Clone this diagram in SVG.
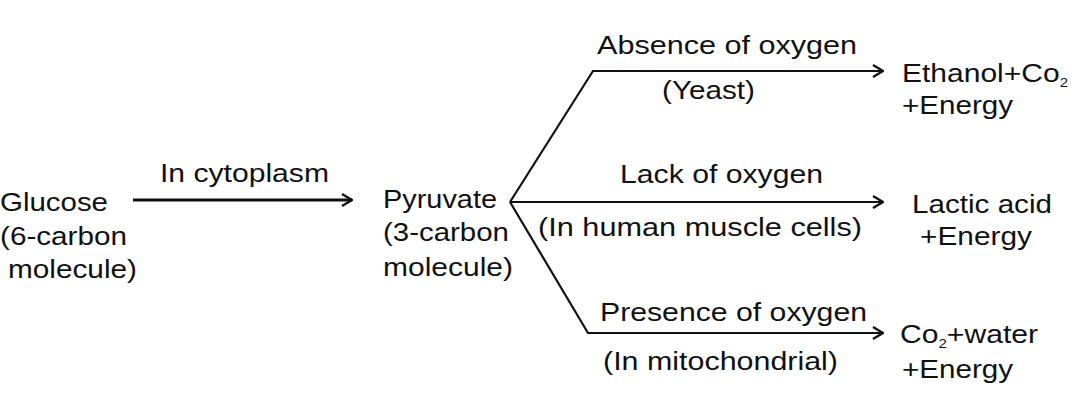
<svg xmlns="http://www.w3.org/2000/svg" width="1080" height="412" viewBox="0 0 1080 412">
<style>
text{font-family:"Liberation Sans",Arial,sans-serif;font-size:26px;fill:#111}
.ln{stroke:#111;stroke-width:2.2;fill:none}
.thick{stroke-width:3}
.sub{font-size:13px}
</style>
<defs>
<marker id="ah" viewBox="0 0 12 14" refX="11" refY="7" markerWidth="12" markerHeight="14" markerUnits="userSpaceOnUse" orient="auto">
<path d="M1,1 L11,7 L1,13" fill="none" stroke="#111" stroke-width="2.4"/>
</marker>
</defs>
<rect width="1080" height="412" fill="#fff"/>
<g id="glucose">
<text x="0" y="211" textLength="108" lengthAdjust="spacingAndGlyphs">Glucose</text>
<text x="0" y="245" textLength="127" lengthAdjust="spacingAndGlyphs">(6-carbon</text>
<text x="8" y="278" textLength="129" lengthAdjust="spacingAndGlyphs">molecule)</text>
</g>
<g id="pyruvate">
<text x="383" y="208" textLength="114" lengthAdjust="spacingAndGlyphs">Pyruvate</text>
<text x="383" y="241" textLength="126" lengthAdjust="spacingAndGlyphs">(3-carbon</text>
<text x="383" y="276" textLength="130" lengthAdjust="spacingAndGlyphs">molecule)</text>
</g>
<g id="ethanol">
<text x="902" y="82" textLength="166" lengthAdjust="spacingAndGlyphs">Ethanol+Co<tspan class="sub" dy="5">2</tspan></text>
<text x="902" y="114" textLength="111" lengthAdjust="spacingAndGlyphs">+Energy</text>
</g>
<g id="lactic">
<text x="912" y="213" textLength="140" lengthAdjust="spacingAndGlyphs">Lactic acid</text>
<text x="920" y="245" textLength="112" lengthAdjust="spacingAndGlyphs">+Energy</text>
</g>
<g id="co2water">
<text x="900" y="343" textLength="138" lengthAdjust="spacingAndGlyphs">Co<tspan class="sub" dy="5">2</tspan><tspan dy="-5">+water</tspan></text>
<text x="902" y="378" textLength="111" lengthAdjust="spacingAndGlyphs">+Energy</text>
</g>
<g id="connectors">
<line class="ln thick" x1="133" y1="200" x2="352" y2="200" marker-end="url(#ah)"/>
<polyline class="ln" points="510,202 593,71 883,71" marker-end="url(#ah)"/>
<line class="ln" x1="510" y1="202" x2="883" y2="202" marker-end="url(#ah)"/>
<polyline class="ln" points="510,202 588,333 883,333" marker-end="url(#ah)"/>
</g>
<g id="labels">
<text x="160" y="182" textLength="169" lengthAdjust="spacingAndGlyphs">In cytoplasm</text>
<text x="597" y="54" textLength="260" lengthAdjust="spacingAndGlyphs">Absence of oxygen</text>
<text x="662" y="99" textLength="93" lengthAdjust="spacingAndGlyphs">(Yeast)</text>
<text x="620" y="183" textLength="203" lengthAdjust="spacingAndGlyphs">Lack of oxygen</text>
<text x="538" y="236" textLength="324" lengthAdjust="spacingAndGlyphs">(In human muscle cells)</text>
<text x="600" y="321" textLength="267" lengthAdjust="spacingAndGlyphs">Presence of oxygen</text>
<text x="603" y="370" textLength="235" lengthAdjust="spacingAndGlyphs">(In mitochondrial)</text>
</g>
</svg>
